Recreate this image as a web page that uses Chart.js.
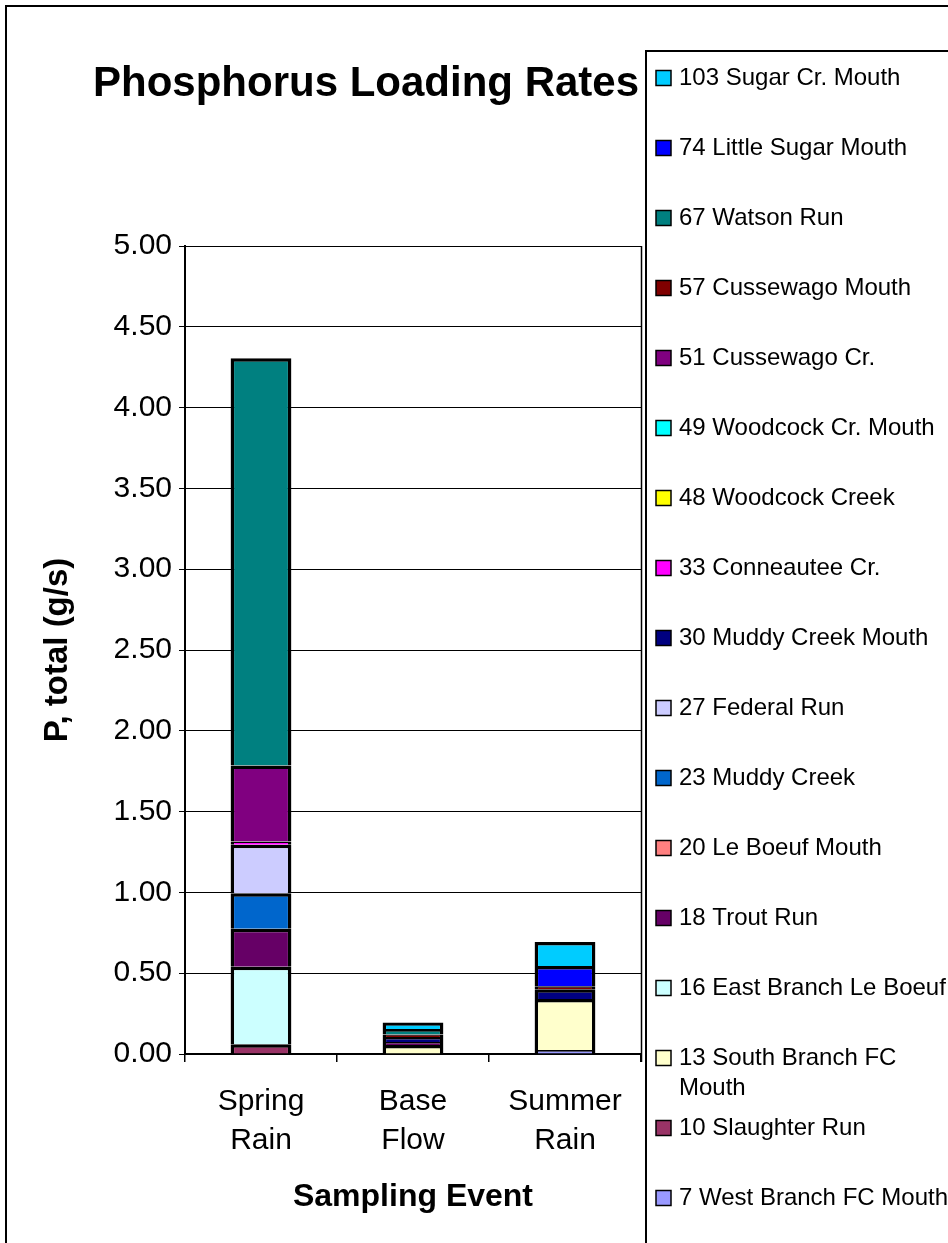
<!DOCTYPE html>
<html>
<head>
<meta charset="utf-8">
<title>Phosphorus Loading Rates</title>
<script src="https://cdn.jsdelivr.net/npm/chart.js@4/dist/chart.umd.min.js"></script>
<style>
  html, body { margin: 0; padding: 0; background: #ffffff; }
  #wrap { position: relative; width: 948px; height: 1243px; }
</style>
</head>
<body>
<div id="wrap"><canvas id="c" width="948" height="1243"></canvas></div>
<script>
// Sampling events (x categories, two-line labels)
const categories = [['Spring', 'Rain'], ['Base', 'Flow'], ['Summer', 'Rain']];

// Stations, in stacking order from the bottom of each bar upward
const stations = [
  '7 West Branch FC Mouth', '10 Slaughter Run', '13 South Branch FC Mouth',
  '16 East Branch Le Boeuf', '18 Trout Run', '20 Le Boeuf Mouth', '23 Muddy Creek',
  '27 Federal Run', '30 Muddy Creek Mouth', '33 Conneautee Cr.', '48 Woodcock Creek',
  '49 Woodcock Cr. Mouth', '51 Cussewago Cr.', '57 Cussewago Mouth', '67 Watson Run',
  '74 Little Sugar Mouth', '103 Sugar Cr. Mouth'
];

const stationColors = [
  '#9999FF', '#993366', '#FFFFCC', '#CCFFFF', '#660066', '#FF8080', '#0066CC',
  '#CCCCFF', '#000080', '#FF00FF', '#FFFF00', '#00FFFF', '#800080', '#800000',
  '#008080', '#0000FF', '#00CCFF'
];

// Total P load (g/s) per station, one array per sampling event
const springRain = [0, 0.06, 0, 0.48, 0.235, 0, 0.22, 0.30, 0, 0.02, 0, 0, 0.47, 0, 2.52, 0, 0];
const baseFlow   = [0, 0, 0.055, 0, 0.02, 0, 0, 0, 0.03, 0, 0, 0, 0, 0.015, 0.035, 0, 0.04];
const summerRain = [0.025, 0, 0.315, 0, 0, 0, 0, 0, 0.06, 0, 0, 0, 0, 0.02, 0, 0.125, 0.148];

// Value axis ticks
const yTicks = [0, 0.5, 1, 1.5, 2, 2.5, 3, 3.5, 4, 4.5, 5];

const FONT = "'Liberation Sans', Arial, sans-serif";

const datasets = stations.map((name, i) => ({
  label: name,
  data: [springRain[i], baseFlow[i], summerRain[i]],
  backgroundColor: stationColors[i],
  borderColor: '#000000',
  borderWidth: 3.5,
  barPercentage: 0.4,
  categoryPercentage: 1.0
}));

// Chart title, framing lines and the station key
const decorations = {
  id: 'decorations',
  afterDraw(chart) {
    const ctx = chart.ctx;
    const area = chart.chartArea;
    ctx.save();

    // plot area right edge
    ctx.strokeStyle = '#000';
    ctx.lineWidth = 1.5;
    ctx.beginPath();
    ctx.moveTo(area.right + 0.5, area.top);
    ctx.lineTo(area.right + 0.5, area.bottom + 8);
    ctx.stroke();

    // outer frame
    ctx.lineWidth = 2;
    ctx.beginPath();
    ctx.moveTo(6, 1243);
    ctx.lineTo(6, 6);
    ctx.lineTo(948, 6);
    ctx.stroke();

    // title
    ctx.fillStyle = '#000';
    ctx.font = 'bold 42px ' + FONT;
    ctx.textAlign = 'center';
    ctx.textBaseline = 'middle';
    ctx.fillText('Phosphorus Loading Rates', 366, 84);

    // key box
    ctx.fillStyle = '#fff';
    ctx.fillRect(646, 51, 310, 1200);
    ctx.strokeStyle = '#000';
    ctx.lineWidth = 2;
    ctx.beginPath();
    ctx.moveTo(646, 1243);
    ctx.lineTo(646, 51);
    ctx.lineTo(948, 51);
    ctx.stroke();

    // key entries, top entry is the last stacked series
    ctx.font = '24px ' + FONT;
    ctx.textAlign = 'left';
    ctx.textBaseline = 'middle';
    const ds = chart.data.datasets;
    for (let k = 0; k < ds.length; k++) {
      const d = ds[ds.length - 1 - k];
      const y = 78 + 70 * k;
      ctx.fillStyle = d.backgroundColor;
      ctx.fillRect(656, y - 7.5, 15, 15);
      ctx.strokeStyle = '#000';
      ctx.lineWidth = 1.5;
      ctx.strokeRect(656, y - 7.5, 15, 15);
      ctx.fillStyle = '#000';
      // wrap long names onto a second line
      const words = d.label.split(' ');
      const lines = [];
      let cur = '';
      for (const w of words) {
        const test = cur ? cur + ' ' + w : w;
        if (cur && ctx.measureText(test).width > 276) {
          lines.push(cur);
          cur = w;
        } else {
          cur = test;
        }
      }
      lines.push(cur);
      lines.forEach((ln, j) => ctx.fillText(ln, 679, y + j * 30));
    }
    ctx.restore();
  }
};

new Chart(document.getElementById('c'), {
  type: 'bar',
  data: { labels: categories, datasets: datasets },
  plugins: [decorations],
  options: {
    responsive: false,
    animation: false,
    devicePixelRatio: 1,
    layout: { padding: { top: 246, right: 307, left: 0, bottom: 0 } },
    plugins: {
      legend: { display: false },
      title: { display: false },
      tooltip: { enabled: false }
    },
    scales: {
      x: {
        stacked: true,
        afterFit(scale) { scale.height = 189; },
        grid: {
          display: true,
          drawOnChartArea: false,
          drawTicks: true,
          tickLength: 8,
          color: '#000',
          lineWidth: 1.5,
          offset: true
        },
        border: { display: true, color: '#000', width: 2 },
        ticks: {
          color: '#000',
          padding: 20,
          font: { family: FONT, size: 30, lineHeight: 1.3 },
          maxRotation: 0
        },
        title: {
          display: true,
          text: 'Sampling Event',
          color: '#000',
          font: { family: FONT, size: 32, weight: 'bold' },
          padding: { top: 0, bottom: 27 }
        }
      },
      y: {
        stacked: true,
        min: 0,
        max: 5,
        afterFit(scale) { scale.width = 185; },
        afterBuildTicks(scale) { scale.ticks = yTicks.map(v => ({ value: v })); },
        grid: {
          color: '#000',
          lineWidth: 1,
          tickLength: 6,
          drawTicks: true
        },
        border: { display: true, color: '#000', width: 2 },
        ticks: {
          color: '#000',
          padding: 7,
          font: { family: FONT, size: 30 },
          callback: v => Number(v).toFixed(2)
        },
        title: {
          display: true,
          text: 'P, total (g/s)',
          color: '#000',
          font: { family: FONT, size: 33, weight: 'bold' },
          padding: { top: 38, bottom: 0 }
        }
      }
    }
  }
});
</script>
</body>
</html>
